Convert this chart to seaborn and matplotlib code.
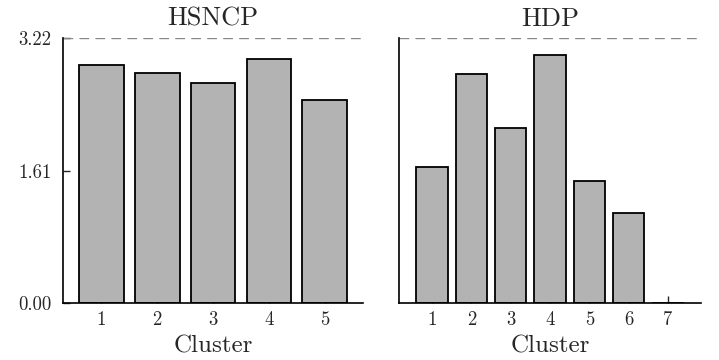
import matplotlib
matplotlib.use("Agg")
import matplotlib.pyplot as plt
import seaborn as sns
import pandas as pd

# Values
hsncp_clusters = ["1", "2", "3", "4", "5"]
hsncp_values = [2.89, 2.80, 2.67, 2.97, 2.47]

hdp_clusters = ["1", "2", "3", "4", "5", "6", "7"]
hdp_values = [1.65, 2.79, 2.13, 3.01, 1.49, 1.09, 0.0]

y_max = 3.22
y_ticks = [0.0, 1.61, 3.22]

sns.set_style("ticks")
plt.rcParams["font.family"] = ["cmr10", "DejaVu Serif"]
plt.rcParams["mathtext.fontset"] = "cm"
plt.rcParams["axes.formatter.use_mathtext"] = True

fig = plt.figure(figsize=(7.19, 3.6), dpi=100)
ax1 = fig.add_axes([0.0876, 0.158, 0.4174, 0.736])
ax2 = fig.add_axes([0.555, 0.158, 0.42, 0.736])

df1 = pd.DataFrame({"Cluster": hsncp_clusters, "value": hsncp_values})
df2 = pd.DataFrame({"Cluster": hdp_clusters, "value": hdp_values})

for ax, df, title, margin in [(ax1, df1, "HSNCP", 0.69), (ax2, df2, "HDP", 0.84)]:
    sns.barplot(data=df, x="Cluster", y="value", ax=ax, color="#b3b3b3",
                edgecolor="black", linewidth=1.3, width=0.8, saturation=1)
    # dashed reference line at the max
    ax.axhline(y_max, ls=(0, (7, 4.5)), color="#888888", lw=1)
    ax.set_ylim(0, y_max)
    ax.set_xlim(-margin, len(df) - 1 + margin)
    ax.set_title(title, fontsize=19, pad=9)
    ax.set_xlabel("Cluster", fontsize=18, labelpad=4)
    ax.set_ylabel("")
    ax.tick_params(direction="in", length=5, width=1, labelsize=13.5, pad=6)
    for side in ["top", "right"]:
        ax.spines[side].set_visible(False)
    for side in ["left", "bottom"]:
        ax.spines[side].set_linewidth(1.2)
        ax.spines[side].set_color("black")

ax1.set_yticks(y_ticks)
ax1.set_yticklabels([f"{v:.2f}" for v in y_ticks])
ax1.tick_params(axis="y", pad=8)
ax2.set_yticks([])

fig.savefig("out.png", dpi=100)
